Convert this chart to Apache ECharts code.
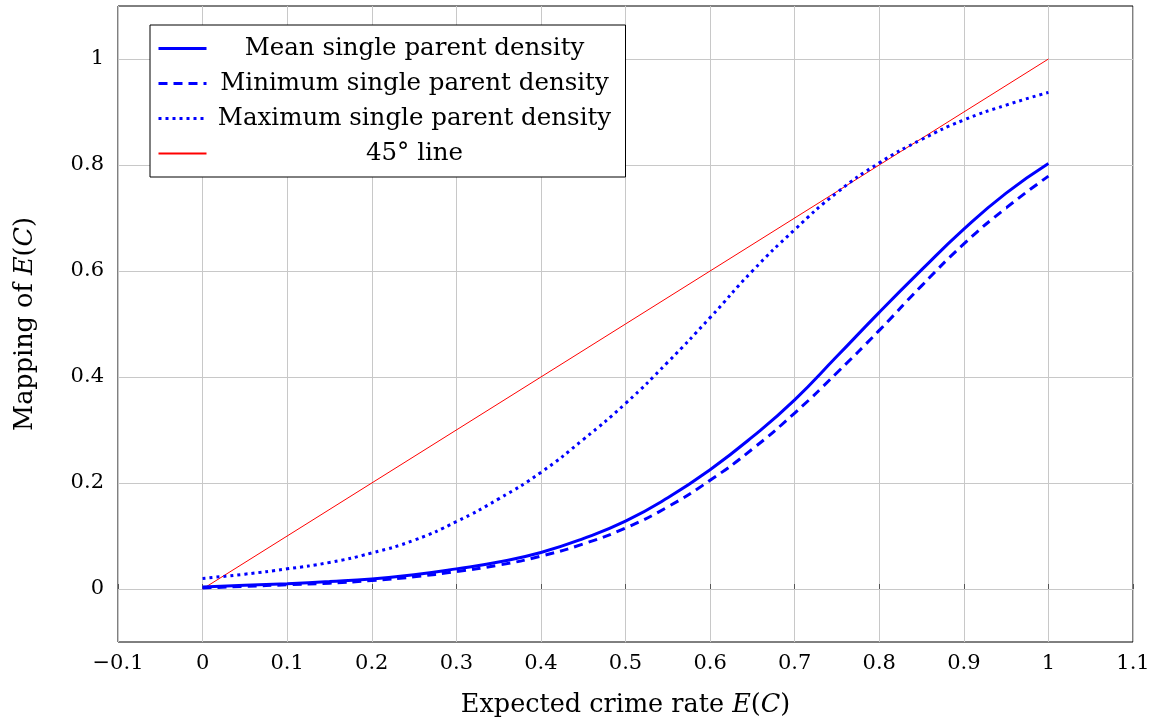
<!DOCTYPE html>
<html><head><meta charset="utf-8">
<script src="https://cdn.jsdelivr.net/npm/echarts@6/dist/echarts.min.js"></script>
<style>html,body{margin:0;padding:0;background:#fff}#c{width:1158px;height:724px}</style>
</head><body><div id="c"></div>
<script>
const xs = [0,0.05,0.1,0.15,0.2,0.25,0.3,0.35,0.4,0.45,0.5,0.55,0.6,0.65,0.7,0.75,0.8,0.85,0.9,0.95,1.0];
const meanDensity = [0.004,0.007,0.010,0.014,0.019,0.027,0.038,0.051,0.069,0.095,0.128,0.172,0.225,0.287,0.357,0.439,0.522,0.602,0.679,0.747,0.803];
const minDensity = [0.002,0.005,0.008,0.011,0.016,0.023,0.033,0.045,0.062,0.085,0.115,0.155,0.205,0.264,0.332,0.408,0.488,0.572,0.651,0.719,0.779];
const maxDensity = [0.020,0.028,0.038,0.050,0.068,0.092,0.127,0.170,0.220,0.282,0.350,0.428,0.512,0.600,0.678,0.748,0.804,0.848,0.885,0.913,0.937];
const line45x = [0, 1];
const line45y = [0, 1];
const yGridTicks = [0, 0.2, 0.4, 0.6, 0.8, 1];
const names = ['Mean single parent density','Minimum single parent density','Maximum single parent density','45° line'];

const F = 'DejaVu Serif, Liberation Serif, serif';
const FS = 21;   // tick labels
const FL = 24.5; // legend
const FT = 25.5; // axis titles
const BLUE = '#0000ff', RED = '#ff0000';
const zip = (a,b) => a.map((v,i)=>[v,b[i]]);
const fmt = v => { const r = Math.round(v*10)/10; return r < 0 ? '\u2212' + Math.abs(r) : String(r); };

const chart = echarts.init(document.getElementById('c'));
chart.setOption({
  animation: false,
  grid: {left: 118, right: 25, top: 6, bottom: 82, show: true, borderColor: '#000', borderWidth: 1},
  legend: {
    orient: 'vertical', left: 150, top: 25, padding: [11, 8, 11, 7], itemGap: 10,
    itemWidth: 48, itemHeight: 14, itemTextGap: 5,
    backgroundColor: '#fff', borderColor: '#000', borderWidth: 1,
    itemStyle: {opacity: 0},
    data: [
      {name: names[0], lineStyle: {width: 3, color: BLUE}},
      {name: names[1], lineStyle: {width: 3, color: BLUE, type: [9, 6]}},
      {name: names[2], lineStyle: {width: 3, color: BLUE, type: [3, 4]}},
      {name: names[3]}
    ],
    formatter: n => '{c|' + n + '}',
    textStyle: {fontFamily: F, fontSize: FL, color: '#000',
      rich: {c: {width: 406, align: 'center', lineHeight: 28, fontFamily: F, fontSize: FL, color: '#000'}}}
  },
  xAxis: {
    type: 'value', min: -0.1, max: 1.1, interval: 0.1,
    name: 'Expected crime rate {i|E}({i|C})', nameLocation: 'middle', nameGap: 50,
    nameTextStyle: {fontFamily: F, fontSize: FT, color: '#000', rich: {i: {fontFamily: F, fontSize: FT, fontStyle: 'italic', color: '#000'}}},
    axisLine: {show: false},
    axisTick: {show: true, inside: true, length: 5, lineStyle: {color: '#555'}},
    axisLabel: {formatter: fmt, fontFamily: F, fontSize: FS, color: '#000', margin: 11},
    splitLine: {show: true, lineStyle: {color: '#c8c8c8', width: 1}}
  },
  yAxis: {
    type: 'value', min: -0.1, max: 1.1, interval: 0.1,
    name: 'Mapping of {i|E}({i|C})', nameLocation: 'middle', nameGap: 80,
    nameTextStyle: {fontFamily: F, fontSize: FT, color: '#000', rich: {i: {fontFamily: F, fontSize: FT, fontStyle: 'italic', color: '#000'}}},
    axisLine: {show: false},
    axisTick: {show: false},
    axisLabel: {formatter: v => { const r = Math.round(v*10); return (r >= 0 && r % 2 === 0) ? fmt(v) : ''; },
      fontFamily: F, fontSize: FS, color: '#000', margin: 14},
    splitLine: {show: false}
  },
  series: [
    {name: names[0], type: 'line', data: zip(xs, meanDensity), smooth: true, symbol: 'none',
     lineStyle: {color: BLUE, width: 3}, itemStyle: {color: BLUE}, z: 5},
    {name: names[1], type: 'line', data: zip(xs, minDensity), smooth: true, symbol: 'none',
     lineStyle: {color: BLUE, width: 3, type: [9, 6]}, itemStyle: {color: BLUE}, z: 5},
    {name: names[2], type: 'line', data: zip(xs, maxDensity), smooth: true, symbol: 'none',
     lineStyle: {color: BLUE, width: 3, type: [3, 4]}, itemStyle: {color: BLUE}, z: 5},
    {name: names[3], type: 'line', data: zip(line45x, line45y), symbol: 'none',
     lineStyle: {color: RED, width: 1}, itemStyle: {color: RED}, z: 4,
     markLine: {silent: true, symbol: 'none', label: {show: false}, z: 1,
       lineStyle: {color: '#c8c8c8', width: 1, type: 'solid'},
       data: yGridTicks.map(v => ({yAxis: v}))}}
  ]
});
</script></body></html>
